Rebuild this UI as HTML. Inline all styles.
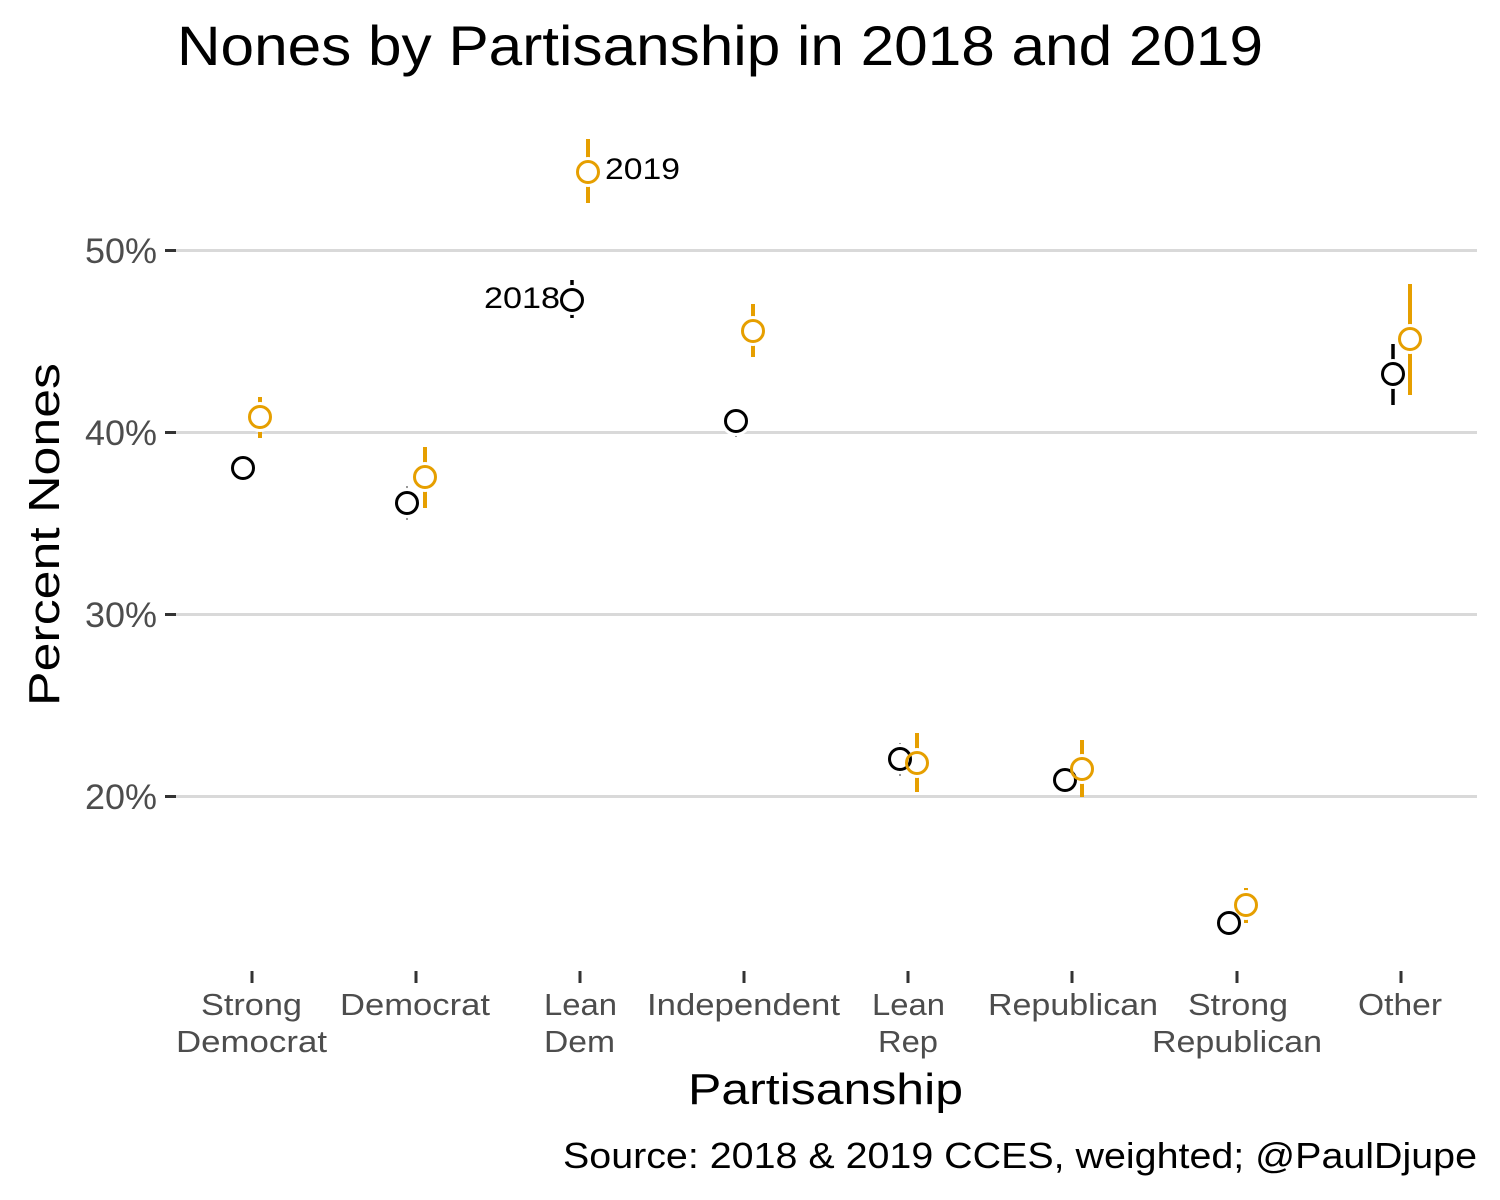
<!DOCTYPE html>
<html>
<head>
<meta charset="utf-8">
<style>
  html, body { margin: 0; padding: 0; background: #ffffff; }
  svg { display: block; }
  text { font-family: "Liberation Sans", "DejaVu Sans", sans-serif; }
</style>
</head>
<body>
<svg width="1500" height="1200" viewBox="0 0 1500 1200" xmlns="http://www.w3.org/2000/svg">
  <rect width="1500" height="1200" fill="#ffffff"/>

  <!-- Title -->
  <text x="177" y="65" font-size="56" fill="#000" textLength="1086" lengthAdjust="spacingAndGlyphs">Nones by Partisanship in 2018 and 2019</text>

  <!-- Gridlines -->
  <g stroke="#d9d9d9" stroke-width="3">
    <line x1="176" y1="250.5" x2="1477" y2="250.5"/>
    <line x1="176" y1="432.5" x2="1477" y2="432.5"/>
    <line x1="176" y1="614.5" x2="1477" y2="614.5"/>
    <line x1="176" y1="796.5" x2="1477" y2="796.5"/>
  </g>

  <!-- Y ticks -->
  <g stroke="#333333" stroke-width="3">
    <line x1="165" y1="250.5" x2="176" y2="250.5"/>
    <line x1="165" y1="432.5" x2="176" y2="432.5"/>
    <line x1="165" y1="614.5" x2="176" y2="614.5"/>
    <line x1="165" y1="796.5" x2="176" y2="796.5"/>
  </g>

  <!-- Y tick labels -->
  <g font-size="35" fill="#4d4d4d" text-anchor="end">
    <text x="157" y="263" textLength="72" lengthAdjust="spacingAndGlyphs">50%</text>
    <text x="157" y="445" textLength="72" lengthAdjust="spacingAndGlyphs">40%</text>
    <text x="157" y="627" textLength="72" lengthAdjust="spacingAndGlyphs">30%</text>
    <text x="157" y="809" textLength="72" lengthAdjust="spacingAndGlyphs">20%</text>
  </g>

  <!-- X ticks -->
  <g stroke="#333333" stroke-width="3">
    <line x1="252" y1="971" x2="252" y2="983"/>
    <line x1="416" y1="971" x2="416" y2="983"/>
    <line x1="580" y1="971" x2="580" y2="983"/>
    <line x1="744" y1="971" x2="744" y2="983"/>
    <line x1="908" y1="971" x2="908" y2="983"/>
    <line x1="1072" y1="971" x2="1072" y2="983"/>
    <line x1="1237" y1="971" x2="1237" y2="983"/>
    <line x1="1401" y1="971" x2="1401" y2="983"/>
  </g>

  <!-- X tick labels -->
  <g font-size="31" fill="#4d4d4d">
    <text x="201" y="1015" textLength="101" lengthAdjust="spacingAndGlyphs">Strong</text>
    <text x="176" y="1052" textLength="151" lengthAdjust="spacingAndGlyphs">Democrat</text>
    <text x="340" y="1015" textLength="150" lengthAdjust="spacingAndGlyphs">Democrat</text>
    <text x="544" y="1015" textLength="73" lengthAdjust="spacingAndGlyphs">Lean</text>
    <text x="544" y="1052" textLength="71" lengthAdjust="spacingAndGlyphs">Dem</text>
    <text x="647" y="1015" textLength="193" lengthAdjust="spacingAndGlyphs">Independent</text>
    <text x="872" y="1015" textLength="73" lengthAdjust="spacingAndGlyphs">Lean</text>
    <text x="878" y="1052" textLength="60" lengthAdjust="spacingAndGlyphs">Rep</text>
    <text x="988" y="1015" textLength="170" lengthAdjust="spacingAndGlyphs">Republican</text>
    <text x="1188" y="1015" textLength="100" lengthAdjust="spacingAndGlyphs">Strong</text>
    <text x="1152" y="1052" textLength="170" lengthAdjust="spacingAndGlyphs">Republican</text>
    <text x="1358" y="1015" textLength="84" lengthAdjust="spacingAndGlyphs">Other</text>
  </g>

  <!-- Axis titles -->
  <text x="688" y="1104" font-size="44" fill="#000" textLength="275" lengthAdjust="spacingAndGlyphs">Partisanship</text>
  <text transform="translate(59,706) rotate(-90)" x="0" y="0" font-size="44" fill="#000" textLength="343" lengthAdjust="spacingAndGlyphs">Percent Nones</text>

  <!-- Caption -->
  <text x="563" y="1168" font-size="36" fill="#000" textLength="914" lengthAdjust="spacingAndGlyphs">Source: 2018 &amp; 2019 CCES, weighted; @PaulDjupe</text>

  <!-- Error bars -->
  <g stroke="#000000" stroke-width="3.5">
    <line x1="243" y1="458" x2="243" y2="478"/>
    <line x1="407" y1="486" x2="407" y2="520" stroke="#999" stroke-width="2"/>
    <line x1="572" y1="280" x2="572" y2="318"/>
    <line x1="736" y1="406" x2="736" y2="437" stroke="#999" stroke-width="2"/>
    <line x1="900" y1="743" x2="900" y2="776" stroke="#999" stroke-width="2"/>
    <line x1="1065" y1="770" x2="1065" y2="790"/>
    <line x1="1229" y1="915" x2="1229" y2="930"/>
    <line x1="1393" y1="344" x2="1393" y2="405"/>
  </g>
  <g stroke="#E69F00" stroke-width="4">
    <line x1="260" y1="397" x2="260" y2="438"/>
    <line x1="425" y1="447" x2="425" y2="508"/>
    <line x1="588" y1="139" x2="588" y2="203"/>
    <line x1="753" y1="304" x2="753" y2="357"/>
    <line x1="917" y1="733" x2="917" y2="792"/>
    <line x1="1082" y1="740" x2="1082" y2="797"/>
    <line x1="1246" y1="888" x2="1246" y2="923"/>
    <line x1="1410" y1="284" x2="1410" y2="395"/>
  </g>

  <!-- White halos -->
  <g fill="#ffffff">
    <circle cx="243" cy="468" r="15"/>
    <circle cx="407" cy="503" r="15"/>
    <circle cx="572" cy="300" r="15"/>
    <circle cx="736" cy="421" r="15"/>
    <circle cx="900" cy="759" r="15"/>
    <circle cx="1065" cy="780" r="15"/>
    <circle cx="1229" cy="923" r="15"/>
    <circle cx="1393" cy="374" r="15"/>
    <circle cx="260" cy="417" r="15"/>
    <circle cx="425" cy="477" r="15"/>
    <circle cx="588" cy="172" r="15"/>
    <circle cx="753" cy="331" r="15"/>
    <circle cx="917" cy="763" r="15"/>
    <circle cx="1082" cy="769" r="15"/>
    <circle cx="1246" cy="905" r="15"/>
    <circle cx="1410" cy="339" r="15"/>
  </g>

  <!-- Points -->
  <g fill="none" stroke="#000000" stroke-width="3">
    <circle cx="243" cy="468" r="10.5"/>
    <circle cx="407" cy="503" r="10.5"/>
    <circle cx="572" cy="300" r="10.5"/>
    <circle cx="736" cy="421" r="10.5"/>
    <circle cx="900" cy="759" r="10.5"/>
    <circle cx="1065" cy="780" r="10.5"/>
    <circle cx="1229" cy="923" r="10.5"/>
    <circle cx="1393" cy="374" r="10.5"/>
  </g>
  <g fill="none" stroke="#E69F00" stroke-width="3">
    <circle cx="260" cy="417" r="10.5"/>
    <circle cx="425" cy="477" r="10.5"/>
    <circle cx="588" cy="172" r="10.5"/>
    <circle cx="753" cy="331" r="10.5"/>
    <circle cx="917" cy="763" r="10.5"/>
    <circle cx="1082" cy="769" r="10.5"/>
    <circle cx="1246" cy="905" r="10.5"/>
    <circle cx="1410" cy="339" r="10.5"/>
  </g>

  <!-- Annotations -->
  <text x="605" y="179" font-size="30" fill="#000" textLength="75" lengthAdjust="spacingAndGlyphs">2019</text>
  <text x="484" y="308" font-size="30" fill="#000" textLength="76" lengthAdjust="spacingAndGlyphs">2018</text>
</svg>
</body>
</html>
